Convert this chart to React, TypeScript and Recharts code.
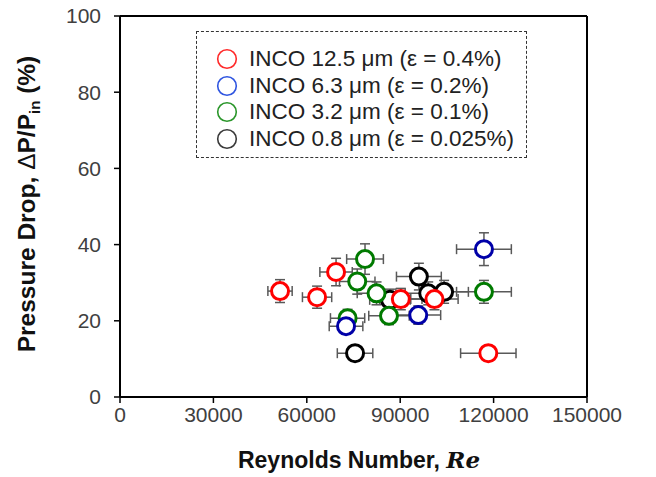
import { ScatterChart, Scatter, XAxis, YAxis, ErrorBar, ReferenceLine, Legend } from 'recharts';

const xTicks = [0, 30000, 60000, 90000, 120000, 150000];
const yTicks = [0, 20, 40, 60, 80, 100];

// INCO 12.5 um
const redRe = [51400, 63300, 69400, 90200, 101000, 118300];
const redDrop = [27.8, 26.2, 32.8, 25.7, 25.7, 11.5];
const redReErr = [3900, 4700, 5200, 6800, 7600, 8900];
const redDropErr = [3.0, 2.9, 3.6, 2.8, 2.8, 1.3];

// INCO 6.3 um
const blueRe = [72600, 95800, 116900];
const blueDrop = [18.6, 21.5, 38.8];
const blueReErr = [5400, 7200, 8800];
const blueDropErr = [2.0, 2.4, 4.3];

// INCO 3.2 um
const greenRe = [73100, 78700, 76200, 82400, 86400, 116900];
const greenDrop = [20.7, 36.2, 30.3, 27.2, 21.3, 27.6];
const greenReErr = [5500, 5900, 5700, 6200, 6500, 8800];
const greenDropErr = [2.3, 4.0, 3.3, 3.0, 2.3, 3.0];

// INCO 0.8 um
const blackRe = [75500, 96000, 86700, 99000, 104100];
const blackDrop = [11.5, 31.6, 25.5, 27.2, 27.6];
const blackReErr = [5700, 7200, 6500, 7400, 7800];
const blackDropErr = [1.3, 3.5, 2.8, 3.0, 3.0];

const legendItems = [
  { label: 'INCO 12.5 \u03bcm (\u03b5 = 0.4%)', color: '#ff2a2a' },
  { label: 'INCO 6.3 \u03bcm (\u03b5 = 0.2%)', color: '#2f55e0' },
  { label: 'INCO 3.2 \u03bcm (\u03b5 = 0.1%)', color: '#2a962a' },
  { label: 'INCO 0.8 \u03bcm (\u03b5 = 0.025%)', color: '#3a3a3a' },
];

const font = '"Liberation Sans", Arial, sans-serif';

function rows(re: number[], dp: number[], reErr: number[], dpErr: number[]) {
  return re.map((x, i) => ({ re: x, dp: dp[i], reErr: reErr[i], dpErr: dpErr[i] }));
}

const redData = rows(redRe, redDrop, redReErr, redDropErr);
const blueData = rows(blueRe, blueDrop, blueReErr, blueDropErr);
const greenData = rows(greenRe, greenDrop, greenReErr, greenDropErr);
const blackData = rows(blackRe, blackDrop, blackReErr, blackDropErr);

const ring = (color: string) => (props: any) => (
  <circle cx={props.cx} cy={props.cy} r={8.5} fill="#fff" stroke={color} strokeWidth={3} />
);

function LegendBox() {
  return (
    <div
      style={{
        width: 329,
        height: 125,
        border: '1.3px dashed #333',
        boxSizing: 'content-box',
        position: 'relative',
        fontFamily: font,
        fontSize: 22.5,
        color: '#222',
      }}
    >
      {legendItems.map((it, i) => (
        <div key={it.label} style={{ position: 'absolute', left: 18, top: 15 + i * 26.7, display: 'flex', alignItems: 'center', whiteSpace: 'nowrap' }}>
          <svg width={24} height={24}>
            <circle cx={12} cy={12} r={9.3} fill="none" stroke={it.color} strokeWidth={1.6} />
          </svg>
          <span style={{ marginLeft: 10, lineHeight: '24px' }}>{it.label}</span>
        </div>
      ))}
    </div>
  );
}

export default function App() {
  return (
    <div style={{ position: 'relative', width: 656, height: 477, marginTop: -8, marginLeft: -8 }}>
      <ScatterChart width={656} height={477} margin={{ top: 16, right: 69, left: 0, bottom: 0 }}>
        <XAxis
          type="number"
          dataKey="re"
          domain={[0, 150000]}
          ticks={xTicks}
          interval={0}
          height={80}
          tickSize={6}
          tickMargin={4}
          axisLine={{ stroke: '#000', strokeWidth: 2 }}
          tickLine={{ stroke: '#000', strokeWidth: 1.5 }}
          tick={{ fill: '#404040', fontSize: 21, fontFamily: font }}
        />
        <YAxis
          type="number"
          dataKey="dp"
          domain={[0, 100]}
          ticks={yTicks}
          interval={0}
          width={120}
          tickSize={6}
          tickMargin={13}
          axisLine={{ stroke: '#000', strokeWidth: 2 }}
          tickLine={{ stroke: '#000', strokeWidth: 1.5 }}
          tick={{ fill: '#404040', fontSize: 21, fontFamily: font }}
        />
        <ReferenceLine y={100} stroke="#000" strokeWidth={2} />
        <ReferenceLine x={150000} stroke="#000" strokeWidth={2} />
        <Legend
          layout="vertical"
          align="center"
          verticalAlign="middle"
          wrapperStyle={{ left: 196, top: 31, width: 333 }}
          content={() => <LegendBox />}
        />
        <Scatter data={blackData} isAnimationActive={false} shape={ring('#000')}>
          <ErrorBar dataKey="reErr" direction="x" width={5} stroke="#595959" strokeWidth={1.5} />
          <ErrorBar dataKey="dpErr" direction="y" width={5} stroke="#595959" strokeWidth={1.5} />
        </Scatter>
        <Scatter data={greenData} isAnimationActive={false} shape={ring('#007a00')}>
          <ErrorBar dataKey="reErr" direction="x" width={5} stroke="#595959" strokeWidth={1.5} />
          <ErrorBar dataKey="dpErr" direction="y" width={5} stroke="#595959" strokeWidth={1.5} />
        </Scatter>
        <Scatter data={blueData} isAnimationActive={false} shape={ring('#0000a8')}>
          <ErrorBar dataKey="reErr" direction="x" width={5} stroke="#595959" strokeWidth={1.5} />
          <ErrorBar dataKey="dpErr" direction="y" width={5} stroke="#595959" strokeWidth={1.5} />
        </Scatter>
        <Scatter data={redData} isAnimationActive={false} shape={ring('#ff0000')}>
          <ErrorBar dataKey="reErr" direction="x" width={5} stroke="#595959" strokeWidth={1.5} />
          <ErrorBar dataKey="dpErr" direction="y" width={5} stroke="#595959" strokeWidth={1.5} />
        </Scatter>
      </ScatterChart>
      <svg
        width={656}
        height={477}
        style={{ position: 'absolute', left: 0, top: 0, pointerEvents: 'none' }}
      >
        <text
          x={359}
          y={468}
          textAnchor="middle"
          fontFamily={font}
          fontWeight="bold"
          fontSize={23}
          fill="#111"
        >
          Reynolds Number,{' '}
          <tspan fontFamily='"DejaVu Serif", "Liberation Serif", serif' fontStyle="italic">Re</tspan>
        </text>
        <text
          transform="translate(35, 204) rotate(-90)"
          textAnchor="middle"
          fontFamily={font}
          fontWeight="bold"
          fontSize={24.5}
          fill="#111"
        >
          Pressure Drop, <tspan fontWeight="normal">{'\u0394'}</tspan>P/P
          <tspan fontSize={15} dy={5}>in</tspan>
          <tspan dy={-5}> (%)</tspan>
        </text>
      </svg>
    </div>
  );
}
